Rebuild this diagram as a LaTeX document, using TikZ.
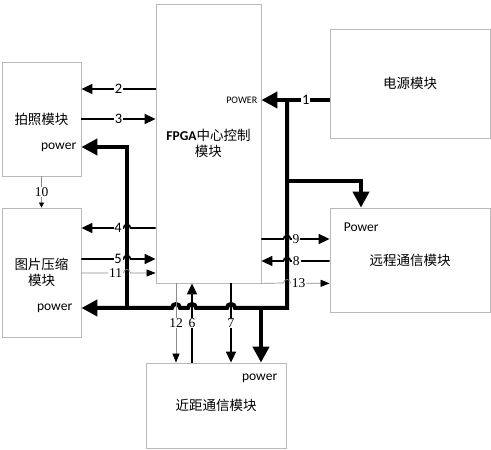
\documentclass[tikz,border=0pt]{standalone}
\usepackage{fontspec}
\setmainfont{Carlito}
\newfontfamily\cjk{Noto Sans CJK SC}
\newfontfamily\serifnum{Liberation Serif}
\usetikzlibrary{arrows.meta,calc}

\begin{document}
\begin{tikzpicture}
    [
    x=1pt, y=1pt,
    box/.style={draw=gray!55, line width=0.8pt, inner sep=0pt, align=center,
      font=\fontsize{13.5}{16}\selectfont\cjk},
    txt/.style={inner sep=0pt, font=\fontsize{13.5}{15}\selectfont},
    lab/.style={fill=white, inner sep=0.8pt, font=\fontsize{14.5}{15}\selectfont},
    labs/.style={lab, font=\fontsize{13.5}{15}\selectfont\serifnum},
    pw/.style={line width=4pt, -{Triangle[length=16pt,width=16pt]}},
    sig/.style={line width=1.6pt, -{Triangle[length=11pt,width=10pt]}},
    aux/.style={draw=gray!90, line width=0.7pt, -{Triangle[length=9pt,width=7pt,color=black]}}
    ]
    \useasboundingbox (0,0) rectangle (491,450);

    % Modulos
    \node [box, minimum width=105pt, minimum height=279pt] (fpga) at (208.5,306.5) {{\normalfont\bfseries FPGA}中心控制\\模块};
    \node [box, minimum width=79pt, minimum height=114pt] (photo) at (41.5,331) {拍照模块};
    \node [box, minimum width=79pt, minimum height=129pt] (comp) at (41.5,177.5) {图片压缩\\模块};
    \node [box, minimum width=160pt, minimum height=109pt] (pwr) at (410,366.5) {电源模块};
    \node [box, minimum width=160pt, minimum height=104pt] (far) at (410,190) {远程通信模块};
    \node [box, minimum width=140pt, minimum height=85pt] (near) at (216,44.5) {近距通信模块};
    % Entradas de alimentacion
    \node [txt, anchor=east, font=\fontsize{10}{12}\selectfont] (fpgapw) at ($(fpga.east |- 0,350)+(-4,0)$) {POWER};
    \node [txt, anchor=east] (photopw) at ($(photo.east |- 0,303)+(-5,0)$) {power};
    \node [txt, anchor=east] (comppw) at ($(comp.east |- 0,142)+(-9,0)$) {power};
    \node [txt, anchor=west] (farpw) at ($(far.west |- 0,223)+(14,0)$) {Power};
    \node [txt, anchor=east] (nearpw) at ($(near.east |- 0,72)+(-9,0)$) {power};

    % Red de alimentacion
    \coordinate (j1) at (287,350);
    \coordinate (j2) at (287,142);
    \coordinate (jfar) at (287,269);
    \coordinate (jph) at (127,142);
    \coordinate (jnr) at (261,142);
    \draw [pw] (pwr.west |- j1) -- node[lab, pos=0.35] {1} (fpga.east |- j1);
    \draw [pw] (j1) -- (j2) -- (235,142) arc[start angle=0, end angle=180, radius=4]
      -- (196,142) arc[start angle=0, end angle=180, radius=4]
      -- (180,142) arc[start angle=0, end angle=180, radius=4] -- (comp.east |- j2);
    \draw [pw] (jfar) -| ($(far.north)+(-49,0)$);
    \draw [pw] (jph) |- (photo.east |- photopw);
    \draw [pw] (jnr) -- (jnr |- near.north);

    % FPGA y modulo de fotos
    \draw [sig] (fpga.west |- 0,361) -- node[lab] {2} (photo.east |- 0,361);
    \draw [sig] (photo.east) -- node[lab] {3} (fpga.west |- photo.east);
    % FPGA y compresion
    \draw [sig] (fpga.west |- 0,222) -- (130.5,222) arc[start angle=0, end angle=180, radius=3.5]
      -- node[lab, pos=0.13] {4} (comp.east |- 0,222);
    \draw [sig] (comp.east |- 0,191) -- node[lab, pos=0.87] {5} (123.5,191)
      arc[start angle=180, end angle=0, radius=3.5] -- (fpga.west |- 0,191);
    \draw [aux] (comp.east |- 0,177) -- node[labs, pos=0.81] {11} (123.5,177)
      arc[start angle=180, end angle=0, radius=3.5] -- (fpga.west |- 0,177);
    % FPGA y comunicacion remota
    \draw [sig] (fpga.east |- 0,211) -- (283.5,211) arc[start angle=180, end angle=0, radius=3.5]
      -- node[labs, pos=0.14] {9} (far.west |- 0,211);
    \draw [sig] (far.west |- 0,189) -- node[labs, pos=0.85] {8} (290.5,189)
      arc[start angle=0, end angle=180, radius=3.5] -- (fpga.east |- 0,189);
    \draw [aux] (fpga.south east) -- (283.5,167) arc[start angle=180, end angle=0, radius=3.5]
      -- node[labs, pos=0.21] {13} (far.west |- fpga.south east);
    % FPGA y comunicacion cercana
    \coordinate (c12) at ($(fpga.south)+(-32.5,0)$);
    \coordinate (c6) at ($(fpga.south)+(-16.5,0)$);
    \coordinate (c7) at ($(fpga.south)+(22.5,0)$);
    \draw [aux] (c12) -- node[labs] {12} (c12 |- near.north);
    \draw [sig] (c6 |- near.north) -- node[labs] {6} (c6);
    \draw [sig] (c7) -- node[labs] {7} (c7 |- near.north);
    % Fotos a compresion
    \draw [aux, -{Triangle[length=5pt,width=5pt,color=black]}] (photo.south) -- node[labs] {10} (comp.north);
\end{tikzpicture}
\end{document}
